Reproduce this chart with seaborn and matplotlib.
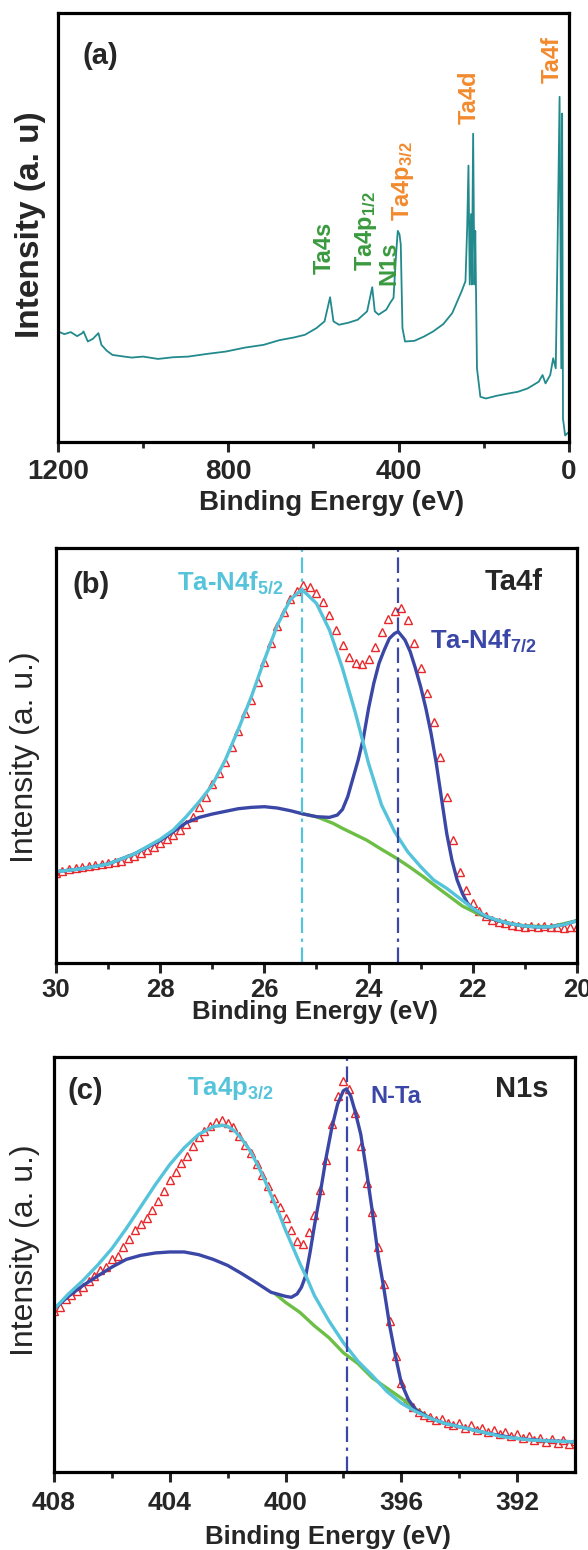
import numpy as np
import pandas as pd
import seaborn as sns
import matplotlib.pyplot as plt

sns.set_style("ticks")
plt.rcParams['font.family'] = ['Liberation Sans', 'DejaVu Sans']
plt.rcParams['mathtext.fontset'] = 'custom'
plt.rcParams['mathtext.rm'] = 'Liberation Sans:bold'
plt.rcParams['mathtext.bf'] = 'Liberation Sans:bold'
plt.rcParams['mathtext.it'] = 'Liberation Sans:bold'

## colours
teal = "#228A8C"
txt_green = "#3A9A3E"
txt_orange = "#F28A2E"
cyan = "#55C4DA"
navy = "#3B47A6"
bg_green = "#6CBE45"
red = "#E8282A"

## (a) survey spectrum
survey_be = [1200, 1185, 1170, 1155, 1143, 1140, 1130, 1118, 1105, 1098, 1085, 1072, 1050,
             1027, 1000, 965, 930, 894, 850, 806, 760, 717, 680, 646, 620, 593, 574, 561,
             553, 540, 518, 496, 474, 462, 456, 447, 429, 420, 412, 406, 402, 398, 395,
             391, 385, 363, 340, 319, 295, 274, 252, 243, 239, 236, 233, 230, 228, 225,
             222, 220, 216, 208, 195, 170, 142, 120, 97, 71, 62, 55, 44, 37, 31, 27, 22,
             18, 16, 14, 9, 0]
survey_int = [33.0, 32.2, 32.8, 31.6, 32.5, 33.0, 30.0, 30.8, 32.5, 29.0, 27.2, 26.0, 25.6,
              25.2, 25.5, 24.8, 25.3, 25.5, 26.3, 27.0, 28.2, 29.0, 30.4, 31.2, 32.0, 34.0,
              36.0, 43.2, 36.0, 35.0, 35.6, 36.5, 39.0, 46.2, 39.0, 38.0, 39.5, 41.5, 43.0,
              56.0, 63.0, 62.0, 59.0, 34.0, 30.0, 30.2, 31.5, 33.0, 35.2, 38.5, 45.0, 48.0,
              64.0, 82.5, 47.0, 68.0, 47.0, 92.0, 47.0, 63.0, 22.0, 13.5, 13.0, 13.8, 14.5,
              15.0, 16.0, 18.0, 20.0, 17.5, 20.0, 25.0, 22.0, 56.0, 103.0, 22.0, 98.0, 7.0,
              2.0, 3.0]
survey_labels = [r"Ta4s", r"Ta4p$_{1/2}$", r"N1s", r"Ta4p$_{3/2}$", r"Ta4d", r"Ta4f"]
survey_label_be = [575, 476, 422, 390, 235, 40]
survey_label_int = [50, 51, 47, 66, 95, 107]
survey_label_col = [txt_green, txt_green, txt_green, txt_orange, txt_orange, txt_orange]

## (b) Ta4f
ta4f_be = [30.0, 29.875, 29.75, 29.625, 29.5, 29.375, 29.25, 29.125, 29.0, 28.875, 28.75,
           28.625, 28.5, 28.375, 28.25, 28.125, 28.0, 27.875, 27.75, 27.625, 27.5, 27.375,
           27.25, 27.125, 27.0, 26.875, 26.75, 26.625, 26.5, 26.375, 26.25, 26.125, 26.0,
           25.875, 25.75, 25.625, 25.5, 25.375, 25.25, 25.125, 25.0, 24.875, 24.75, 24.625,
           24.5, 24.375, 24.25, 24.125, 24.0, 23.875, 23.75, 23.625, 23.5, 23.375, 23.25,
           23.125, 23.0, 22.875, 22.75, 22.625, 22.5, 22.375, 22.25, 22.125, 22.0, 21.875,
           21.75, 21.625, 21.5, 21.375, 21.25, 21.125, 21.0, 20.875, 20.75, 20.625, 20.5,
           20.375, 20.25, 20.125, 20.0]
ta4f_int = [27.1, 27.7, 28.1, 28.5, 28.7, 29.1, 29.3, 29.7, 29.9, 30.2, 30.7, 31.4, 32.1,
            33.1, 33.9, 34.9, 36.1, 37.1, 38.3, 39.9, 41.7, 43.9, 46.7, 49.9, 53.7, 57.1,
            60.4, 64.9, 69.7, 74.9, 78.9, 84.4, 90.4, 95.9, 101.1, 105.4, 109.1, 111.7,
            113.3, 112.7, 110.9, 108.4, 104.4, 99.9, 95.4, 91.9, 89.9, 89.7, 91.1, 94.9,
            99.4, 103.1, 105.7, 106.4, 102.9, 95.9, 88.4, 80.9, 72.4, 61.9, 49.9, 36.9,
            27.4, 21.9, 17.9, 15.7, 14.1, 12.9, 12.3, 11.9, 11.5, 11.2, 10.9, 11.1, 10.7,
            11.0, 10.8, 10.9, 10.6, 10.9, 10.7]
f52_be = [30.0, 29.5, 29.0, 28.5, 28.0, 27.75, 27.5, 27.25, 27.0, 26.75, 26.5, 26.25, 26.0,
          25.75, 25.5, 25.28, 25.0, 24.75, 24.5, 24.25, 24.0, 23.75, 23.5, 23.25, 23.0,
          22.75, 22.5, 22.25, 22.0, 21.75, 21.5, 21.25, 21.0, 20.75, 20.5, 20.25, 20.0]
f52_int = [27.4, 28.3, 29.7, 32.7, 37.1, 39.9, 43.9, 48.4, 53.4, 60.9, 70.1, 79.9, 90.9,
           101.4, 109.1, 112.1, 107.9, 99.9, 88.4, 74.9, 59.9, 47.4, 39.4, 33.4, 28.9,
           24.9, 22.4, 19.4, 16.4, 14.1, 12.7, 11.7, 11.1, 10.8, 10.9, 11.5, 12.7]
f72_be = [30.0, 29.5, 29.0, 28.5, 28.0, 27.75, 27.5, 27.25, 27.0, 26.75, 26.5, 26.25, 26.0,
          25.75, 25.5, 25.25, 25.0, 24.75, 24.6, 24.5, 24.4, 24.3, 24.2, 24.1, 24.0, 23.9,
          23.8, 23.7, 23.6, 23.5, 23.43, 23.3, 23.2, 23.1, 23.0, 22.9, 22.8, 22.7, 22.6,
          22.5, 22.4, 22.3, 22.2, 22.1, 22.0, 21.75, 21.5, 21.25, 21.0, 20.75, 20.5, 20.25,
          20.0]
f72_int = [27.4, 28.3, 29.7, 32.7, 36.7, 39.4, 42.1, 43.7, 44.7, 45.5, 46.3, 46.7, 46.9,
           46.5, 45.7, 44.7, 43.9, 43.7, 44.4, 46.1, 49.9, 55.4, 60.9, 67.4, 76.4, 83.9,
           89.9, 93.9, 97.4, 98.9, 99.4, 96.9, 93.4, 88.4, 82.9, 76.4, 68.9, 59.9, 49.4,
           38.9, 30.9, 24.9, 20.9, 17.9, 16.4, 13.9, 12.6, 11.7, 11.1, 10.8, 10.9, 11.5, 12.7]
bgb_be = [25.3, 25.0, 24.68, 24.5, 24.04, 23.75, 23.46, 23.2, 22.95, 22.7, 22.44, 22.2,
          21.92, 21.6, 21.3, 21.0, 20.5, 20.0]
bgb_int = [44.9, 43.9, 41.9, 40.4, 36.9, 34.1, 31.4, 28.7, 25.9, 22.9, 19.9, 17.1, 14.9,
           13.1, 11.9, 11.1, 10.9, 12.7]
ta4f_peaks = [25.28, 23.44]

## (c) N1s
n1s_be = [408.0, 407.8, 407.6, 407.4, 407.2, 407.0, 406.8, 406.6, 406.4, 406.2, 406.0,
          405.8, 405.6, 405.4, 405.2, 405.0, 404.8, 404.6, 404.4, 404.2, 404.0, 403.8,
          403.6, 403.4, 403.2, 403.0, 402.8, 402.6, 402.4, 402.2, 402.0, 401.8, 401.6,
          401.4, 401.2, 401.0, 400.8, 400.6, 400.4, 400.2, 400.0, 399.8, 399.6, 399.4,
          399.2, 399.0, 398.8, 398.6, 398.4, 398.2, 398.0, 397.8, 397.6, 397.4, 397.2,
          397.0, 396.8, 396.6, 396.4, 396.2, 396.0, 395.8, 395.6, 395.4, 395.2, 395.0,
          394.8, 394.6, 394.4, 394.2, 394.0, 393.8, 393.6, 393.4, 393.2, 393.0, 392.8,
          392.6, 392.4, 392.2, 392.0, 391.8, 391.6, 391.4, 391.2, 391.0, 390.8, 390.6,
          390.4, 390.2, 390.0]
n1s_int = [46.8, 48.2, 50.5, 51.6, 53.0, 54.2, 55.9, 57.4, 59.2, 60.1, 62.3, 63.4, 66.0,
           68.4, 71.0, 72.8, 74.5, 76.9, 79.8, 82.7, 86.0, 88.4, 91.0, 93.2, 96.0, 98.6,
           100.4, 102.1, 103.3, 103.9, 103.0, 101.8, 98.9, 96.4, 94.1, 90.6, 87.4, 84.0,
           80.5, 77.8, 74.6, 71.0, 67.8, 67.0, 70.5, 75.6, 83.0, 92.0, 102.5, 111.0, 115.5,
           113.0, 106.0, 96.0, 85.0, 76.5, 66.0, 55.0, 44.0, 33.5, 25.5, 20.5, 18.4, 16.8,
           16.0, 15.4, 14.5, 14.9, 13.6, 13.1, 13.5, 12.2, 12.9, 11.6, 12.0, 11.0, 11.5,
           10.3, 10.9, 9.6, 10.2, 9.0, 9.8, 8.4, 9.1, 8.0, 8.9, 7.6, 8.5, 7.2, 8.1]
p32_be = [408, 407.5, 407, 406.5, 406, 405.5, 405, 404.5, 404, 403.5, 403, 402.5, 402.2,
          402, 401.75, 401.5, 401.25, 401, 400.75, 400.5, 400.25, 400, 399.75, 399.5,
          399.25, 399, 398.5, 398, 397.5, 397, 396.5, 396, 395.5, 395, 394.5, 394, 393.5,
          393, 392.5, 392, 391.5, 391, 390.5, 390]
p32_int = [47.5, 52.0, 56.0, 60.5, 65.5, 71.5, 78.0, 84.5, 90.5, 95.5, 99.5, 101.8, 102.2,
           101.9, 100.5, 98.0, 95.0, 91.0, 86.5, 81.5, 76.5, 71.0, 66.0, 61.0, 56.5, 51.5,
           44.0, 37.5, 32.0, 27.7, 23.0, 19.5, 17.0, 15.0, 13.5, 12.5, 11.5, 10.5, 9.5, 9.0,
           8.5, 8.3, 8.1, 8.0]
nta_be = [408, 407.5, 407, 406.5, 406, 405.5, 405, 404.5, 404, 403.5, 403, 402.5, 402,
          401.5, 401, 400.5, 400, 399.8, 399.6, 399.45, 399.3, 399.15, 399.0, 398.8, 398.6,
          398.4, 398.2, 398.0, 397.9, 397.75, 397.6, 397.4, 397.2, 397.0, 396.8, 396.6,
          396.4, 396.2, 396.0, 395.75, 395.5, 395.0, 394.5, 394, 393, 392, 391, 390]
nta_int = [47.5, 51.3, 54.5, 57.3, 60.0, 62.3, 63.5, 64.2, 64.5, 64.5, 63.7, 62.3, 60.5,
           58.0, 55.3, 52.5, 51.3, 51.0, 52.0, 54.0, 57.5, 64.5, 72.4, 82.0, 92.5, 101.5,
           108.5, 112.5, 113.0, 111.0, 106.5, 99.5, 88.5, 76.5, 63.5, 53.5, 42.5, 33.5, 25.5,
           20.5, 17.5, 15.0, 13.5, 12.5, 10.5, 9.0, 8.3, 8.0]
bgc_be = [400.35, 400, 399.5, 399, 398.5, 398, 397.5, 397, 396.5, 396, 395.5, 395]
bgc_int = [52.0, 49.5, 46.5, 42.5, 39.0, 34.5, 31.3, 27.0, 24.0, 21.0, 17.7, 15.0]
n1s_peak = 397.89

fig = plt.figure(figsize=(5.88, 15.5), dpi=100)
ax1 = fig.add_axes([0.0986, 0.7148, 0.869, 0.2768])
ax2 = fig.add_axes([0.0952, 0.3787, 0.886, 0.2677])
ax3 = fig.add_axes([0.0918, 0.0503, 0.886, 0.2677])


def curve(ax, x, y, color, lw):
    sns.lineplot(x=x, y=y, ax=ax, color=color, lw=lw, sort=False, estimator=None,
                 solid_capstyle='round')


def points(ax, x, y):
    sns.lineplot(x=x, y=y, ax=ax, sort=False, estimator=None, linestyle='', marker='^',
                 markersize=6, markerfacecolor='none', markeredgecolor=red,
                 markeredgewidth=1.0, color=red)


def frame(ax, xlim, ylim, major, minor, fs, pad):
    ax.set_xlim(*xlim)
    ax.set_ylim(*ylim)
    ax.set_xticks(major)
    ax.set_xticks(minor, minor=True)
    ax.set_yticks([])
    for s in ax.spines.values():
        s.set_linewidth(2.3)
        s.set_color('black')
    ax.tick_params(axis='x', which='major', direction='out', length=7, width=2.2,
                   labelsize=fs, pad=pad)
    ax.tick_params(axis='x', which='minor', direction='out', length=4.5, width=2.0)
    for lab in ax.get_xticklabels():
        lab.set_fontweight('bold')


dashdot = (0, (7, 2.5, 1.5, 2.5))

## (a)
sns.lineplot(x=survey_be, y=survey_int, ax=ax1, color=teal, lw=1.3, sort=False,
             estimator=None)
frame(ax1, (1200, 0), (0, 128), [1200, 800, 400, 0], [1000, 600, 200], 20, 5)
for lab, xb, yi, c in zip(survey_labels, survey_label_be, survey_label_int, survey_label_col):
    ax1.text(xb, yi, lab, rotation=90, color=c, fontsize=17, fontweight='bold',
             ha='center', va='bottom')
ax1.text(0.082, 0.90, "(a)", transform=ax1.transAxes, fontsize=21, fontweight='bold',
         ha='center', va='center')
ax1.set_xlabel("Binding Energy (eV)", fontsize=20, fontweight='bold')
ax1.xaxis.set_label_coords(0.536, -0.112)
ax1.set_ylabel("Intensity (a. u)", fontsize=24, fontweight='bold')
ax1.yaxis.set_label_coords(-0.024, 0.506)

## (b)
points(ax2, ta4f_be, ta4f_int)
curve(ax2, bgb_be, bgb_int, bg_green, 2.4)
curve(ax2, f72_be, f72_int, navy, 2.4)
curve(ax2, f52_be, f52_int, cyan, 2.4)
ax2.axvline(ta4f_peaks[0], color=cyan, lw=1.6, linestyle=dashdot)
ax2.axvline(ta4f_peaks[1], color=navy, lw=1.6, linestyle=dashdot)
frame(ax2, (30, 20), (0, 124.5), [30, 28, 26, 24, 22, 20], [29, 27, 25, 23, 21], 18.5, 4)
ax2.text(0.067, 0.911, "(b)", transform=ax2.transAxes, fontsize=21, fontweight='bold',
         ha='center', va='center')
ax2.text(0.879, 0.899, "Ta4f", transform=ax2.transAxes, fontsize=21, fontweight='bold',
         ha='center', va='baseline')
ax2.text(0.233, 0.899, r"Ta-N4f$_{5/2}$", transform=ax2.transAxes, fontsize=18.5,
         fontweight='bold', color=cyan, ha='left', va='baseline')
ax2.text(0.718, 0.759, r"Ta-N4f$_{7/2}$", transform=ax2.transAxes, fontsize=18.5,
         fontweight='bold', color=navy, ha='left', va='baseline')
ax2.set_xlabel("Binding Energy (eV)", fontsize=18.5, fontweight='bold')
ax2.xaxis.set_label_coords(0.497, -0.089)
ax2.set_ylabel("Intensity (a. u.)", fontsize=23)
ax2.yaxis.set_label_coords(-0.031, 0.496)

## (c)
points(ax3, n1s_be, n1s_int)
curve(ax3, bgc_be, bgc_int, bg_green, 2.4)
curve(ax3, nta_be, nta_int, navy, 2.4)
curve(ax3, p32_be, p32_int, cyan, 2.4)
ax3.axvline(n1s_peak, color=navy, lw=1.6, linestyle=dashdot)
frame(ax3, (408, 390), (-1, 122.5), [408, 404, 400, 396, 392], [406, 402, 398, 394], 19, 7)
ax3.text(0.060, 0.918, "(c)", transform=ax3.transAxes, fontsize=21, fontweight='bold',
         ha='center', va='center')
ax3.text(0.897, 0.904, "N1s", transform=ax3.transAxes, fontsize=21, fontweight='bold',
         ha='center', va='baseline')
ax3.text(0.256, 0.908, r"Ta4p$_{3/2}$", transform=ax3.transAxes, fontsize=18.5,
         fontweight='bold', color=cyan, ha='left', va='baseline')
ax3.text(0.607, 0.889, "N-Ta", transform=ax3.transAxes, fontsize=17,
         fontweight='bold', color=navy, ha='left', va='baseline')
ax3.set_xlabel("Binding Energy (eV)", fontsize=18.5, fontweight='bold')
ax3.xaxis.set_label_coords(0.526, -0.128)
ax3.set_ylabel("Intensity (a. u.)", fontsize=23)
ax3.yaxis.set_label_coords(-0.027, 0.535)

fig.savefig("out.png", dpi=100)
